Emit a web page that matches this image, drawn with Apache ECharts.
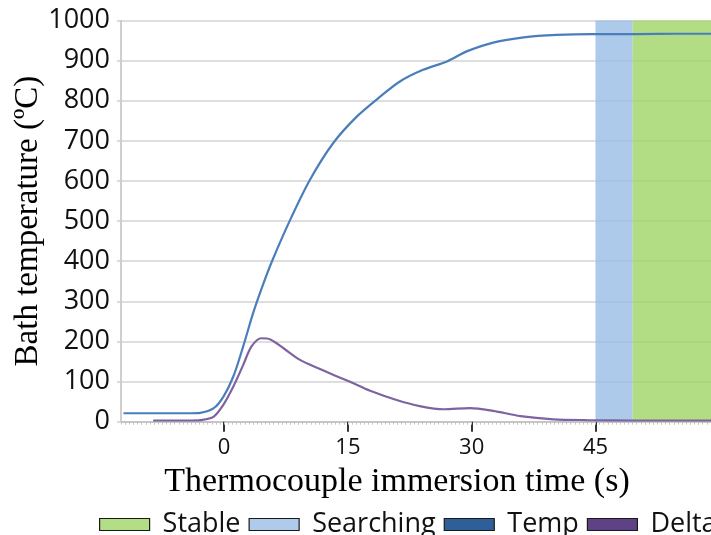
<!DOCTYPE html>
<html>
<head>
<meta charset="utf-8">
<script src="https://cdn.jsdelivr.net/npm/echarts@6/dist/echarts.min.js"></script>
<style>
html,body{margin:0;padding:0;background:#fff;}
#chart{width:711px;height:535px;}
</style>
</head>
<body>
<div id="chart"></div>
<script>
// ---- data ----
const tempTimes  = [-12.2, -8, -4, -2.9, -1.3, -0.1, 1.1, 2.3, 3.5, 4.7, 5.8, 8.0, 10.4, 13.2, 16.1, 18.9, 21.3, 24.1, 27.0, 29.4, 32.6, 36.3, 40.3, 44.7, 50, 55, 59];
const tempValues = [21, 21, 21, 22, 33, 62, 112, 187, 270, 341, 400, 503, 603, 694, 761, 810, 848, 877, 898, 923, 945, 958, 964, 966, 966, 967, 967];
const deltaTimes  = [-8.6, -4, -2.9, -1.3, -0.1, 1.1, 2.3, 3.3, 4.5, 5.6, 7.2, 9.2, 11.4, 13.2, 15.2, 17.7, 20.9, 23.7, 26.6, 29.8, 32.6, 35.9, 39.9, 43.9, 50, 59];
const deltaValues = [3, 3, 4, 12, 42, 87, 141, 187, 208, 205, 183, 154, 133, 117, 100, 77, 54, 39, 31, 34, 27, 14, 6, 4, 3, 3];
const searchingRange = [45, 49.5];
const stableRange = [49.5, 59];
const xTickLabels = [0, 15, 30, 45];
const legendNames = ['Stable', 'Searching', 'Temp', 'Delta'];

const xMin = -12.5, xMax = 59;

const chart = echarts.init(document.getElementById('chart'), null, {renderer: 'canvas'});
const sans = '"Open Sans", "Noto Sans", sans-serif';
const serif = '"Liberation Serif", "DejaVu Serif", serif';

chart.setOption({
  animation: false,
  backgroundColor: '#ffffff',
  grid: {left: 121, right: 0, top: 20.5, bottom: 113.3, outerBoundsMode: 'none', containLabel: false},
  legend: {
    left: 94, top: 506, width: 900, orient: 'horizontal',
    icon: 'rect', itemWidth: 50, itemHeight: 12, itemGap: 8,
    textStyle: {fontFamily: sans, fontSize: 27, color: '#111', padding: [0, 0, 0, 8]},
    itemStyle: {borderColor: '#1a1a1a', borderWidth: 1.2},
    data: [
      {name: legendNames[0], itemStyle: {color: '#b3de85'}},
      {name: legendNames[1], itemStyle: {color: '#afcaea'}},
      {name: legendNames[2], itemStyle: {color: '#2f5f99'}},
      {name: legendNames[3], itemStyle: {color: '#5f4186'}}
    ]
  },
  graphic: [{
    type: 'text', x: 397, y: 482,
    style: {text: 'Thermocouple immersion time (s)', font: '34px ' + serif, fill: '#000', textAlign: 'center', textVerticalAlign: 'middle'}
  }],
  xAxis: [{
    type: 'value', min: xMin, max: xMax,
    axisLine: {show: true, onZero: false, lineStyle: {color: '#bfbfbf', width: 1.5}},
    axisTick: {show: true, customValues: xTickLabels, length: 10, lineStyle: {color: '#333', width: 2}},
    axisLabel: {customValues: xTickLabels, fontFamily: sans, fontSize: 22, color: '#111', margin: 15},
    splitLine: {show: false}
  }, {
    type: 'value', min: xMin, max: xMax, interval: 0.5, position: 'bottom',
    axisLine: {show: false, onZero: false},
    axisTick: {show: true, length: 3, lineStyle: {color: '#c4c4c4', width: 1}},
    axisLabel: {show: false},
    splitLine: {show: false}
  }],
  yAxis: {
    type: 'value', min: 0, max: 1000, interval: 100,
    name: 'Bath temperature (\u00baC)', nameLocation: 'middle', nameGap: 76, nameMoveOverlap: false,
    nameTextStyle: {fontFamily: serif, fontSize: 33, color: '#000'},
    axisLine: {show: true, onZero: false, lineStyle: {color: '#bfbfbf', width: 1.5}},
    axisTick: {show: true, length: 4, lineStyle: {color: '#d0d0d0', width: 1.5}},
    axisLabel: {fontFamily: sans, fontSize: 27, color: '#111', margin: 11, formatter: v => String(v)},
    splitLine: {show: true, lineStyle: {color: '#d3d3d3', width: 1.5}}
  },
  series: [
    {
      name: legendNames[1], type: 'line', data: [], color: '#afcaea',
      markArea: {silent: true, itemStyle: {color: 'rgba(154,189,229,0.8)'}, data: [[{xAxis: searchingRange[0]}, {xAxis: searchingRange[1]}]]}
    },
    {
      name: legendNames[0], type: 'line', data: [], color: '#b3de85',
      markArea: {silent: true, itemStyle: {color: 'rgba(160,213,102,0.8)'}, data: [[{xAxis: stableRange[0]}, {xAxis: stableRange[1]}]]}
    },
    {
      name: legendNames[2], type: 'line', smooth: 0.3, showSymbol: false, color: '#4a7ebb',
      lineStyle: {color: '#4a7ebb', width: 2.2},
      data: tempTimes.map((t, i) => [t, tempValues[i]]), z: 5
    },
    {
      name: legendNames[3], type: 'line', smooth: 0.3, showSymbol: false, color: '#7f63a1',
      lineStyle: {color: '#7f63a1', width: 2.2},
      data: deltaTimes.map((t, i) => [t, deltaValues[i]]), z: 4
    }
  ]
});
</script>
</body>
</html>
